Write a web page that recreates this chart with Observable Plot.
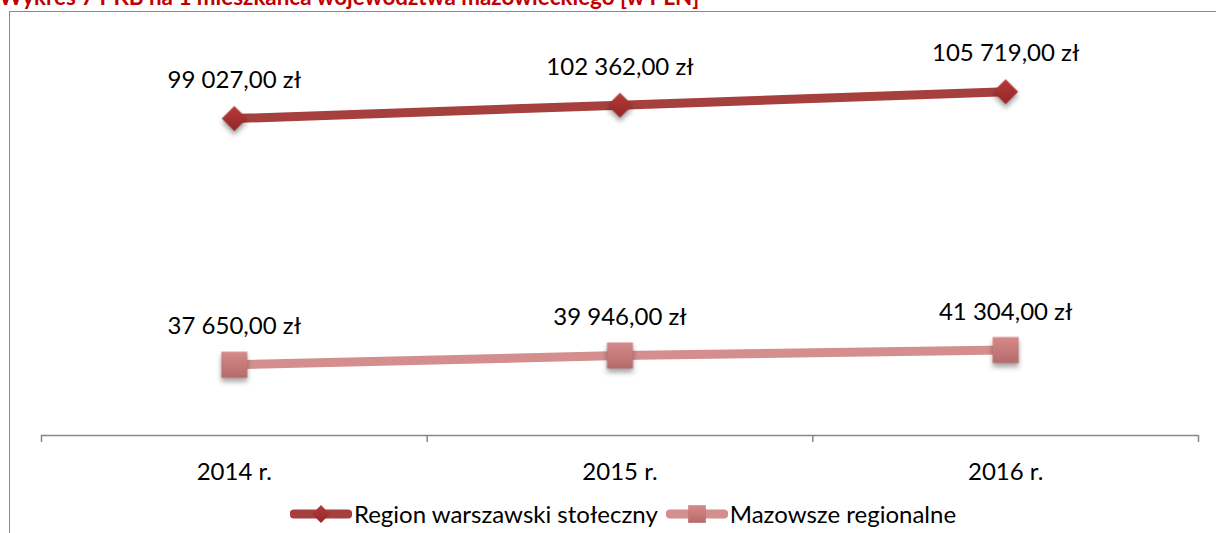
<!DOCTYPE html>
<html><head><meta charset="utf-8">
<script src="https://cdn.jsdelivr.net/npm/d3@7"></script>
<script src="https://cdn.jsdelivr.net/npm/@observablehq/plot@0.6"></script>
<style>
body{margin:0;width:1216px;height:533px;overflow:hidden;background:#fff;position:relative;font-family:Lato,"Open Sans",sans-serif;}
#title{position:absolute;left:-1px;top:-14px;color:#C00000;font-weight:bold;font-size:22.4px;line-height:22px;white-space:nowrap;}
#frame{position:absolute;left:9px;top:11px;width:1300px;height:700px;border:1.5px solid #8a8a8a;box-sizing:border-box;}
#chart{position:absolute;left:0;top:0;}
#legend{position:absolute;top:500px;left:0;width:1246px;display:flex;justify-content:center;align-items:center;font-size:24px;line-height:28px;color:#000;}
.item{display:flex;align-items:center;margin:0 4px;}
.item span{margin-left:2px;}
.shadow{filter:drop-shadow(0px 4px 2.5px rgba(0,0,0,0.35));}
</style>
</head><body>
<div id="title">Wykres 7 PKB na 1 mieszkańca województwa mazowieckiego [w PLN]</div>
<div id="frame"></div>
<div id="chart"></div>
<div id="legend"></div>
<script>
const years = ["2014 r.", "2015 r.", "2016 r."];
const seriesNames = ["Region warszawski stołeczny", "Mazowsze regionalne"];
const warszawski = [99027, 102362, 105719];
const mazowsze = [37650, 39946, 41304];
const lineColors = ["#A6403E", "#D48E8E"];

const locale = d3.formatLocale({decimal: ",", thousands: " ", grouping: [3], currency: ["", " zł"]});
const fmt = locale.format("$,.2f");

const rowsW = years.map((y, i) => ({i: i + 0.5, year: y, series: seriesNames[0], v: warszawski[i]}));
const rowsM = years.map((y, i) => ({i: i + 0.5, year: y, series: seriesNames[1], v: mazowsze[i]}));
const rows = rowsW.concat(rowsM);

const chart = Plot.plot({
  width: 1216, height: 490,
  marginTop: 34, marginBottom: 55, marginLeft: 41, marginRight: 18,
  style: {fontFamily: "Lato, 'Open Sans', sans-serif", color: "#000", background: "transparent"},
  x: {type: "linear", domain: [0, 3], axis: null},
  y: {domain: [20000, 120000], axis: null},
  color: {domain: seriesNames, range: lineColors},
  marks: [
    Plot.ruleY([20000], {stroke: "#868686", strokeWidth: 1.5}),
    Plot.axisX({ticks: [0, 1, 2, 3], tickSize: 7, tickFormat: () => "", label: null, stroke: "#868686", strokeWidth: 1.5}),
    Plot.axisX({ticks: years.map((d, i) => i + 0.5), tickSize: 0, tickPadding: 27, tickFormat: t => years[Math.floor(t)], label: null, fontSize: 24, fill: "#000"}),
    Plot.line(rows, {x: "i", y: "v", z: "series", stroke: "series", strokeWidth: 9}),
    Plot.dot(rowsW, {x: "i", y: "v", symbol: "diamond2", r: 11.3, fill: "url(#gradD)", stroke: "none", className: "shadow"}),
    Plot.dot(rowsM, {x: "i", y: "v", symbol: "square", r: 14.7, fill: "url(#gradS)", stroke: "none", className: "shadow"}),
    Plot.text(rows, {x: "i", y: "v", text: d => fmt(d.v), dy: -38, fontSize: 24, fill: "#000"})
  ]
});

function addDefs(svg) {
  const defs = d3.select(svg).insert("defs", ":first-child");
  const gd = defs.append("linearGradient").attr("id", "gradD").attr("x1", 0).attr("y1", 0).attr("x2", 0).attr("y2", 1);
  gd.append("stop").attr("offset", "0%").attr("stop-color", "#B63A39");
  gd.append("stop").attr("offset", "100%").attr("stop-color", "#922827");
  const gs = defs.append("linearGradient").attr("id", "gradS").attr("x1", 0).attr("y1", 0).attr("x2", 0).attr("y2", 1);
  gs.append("stop").attr("offset", "0%").attr("stop-color", "#D68A8A");
  gs.append("stop").attr("offset", "100%").attr("stop-color", "#B56B6C");
}
addDefs(chart);
document.getElementById("chart").appendChild(chart);

// legend
const legend = d3.select("#legend");
seriesNames.forEach((name, k) => {
  const item = legend.append("div").attr("class", "item");
  const sw = item.append("svg").attr("width", 62).attr("height", 26);
  addDefs(sw.node());
  sw.append("line").attr("x1", 4).attr("x2", 58).attr("y1", 13).attr("y2", 13)
    .attr("stroke", lineColors[k]).attr("stroke-width", 9).attr("stroke-linecap", "round");
  if (k === 0) {
    sw.append("path").attr("d", d3.symbol(d3.symbolDiamond2, Math.PI * 8 * 8)()).attr("transform", "translate(31,13)").attr("fill", "url(#gradD)");
  } else {
    sw.append("path").attr("d", d3.symbol(d3.symbolSquare, Math.PI * 10 * 10)()).attr("transform", "translate(31,13)").attr("fill", "url(#gradS)");
  }
  item.append("span").text(name);
});
</script>
</body></html>
